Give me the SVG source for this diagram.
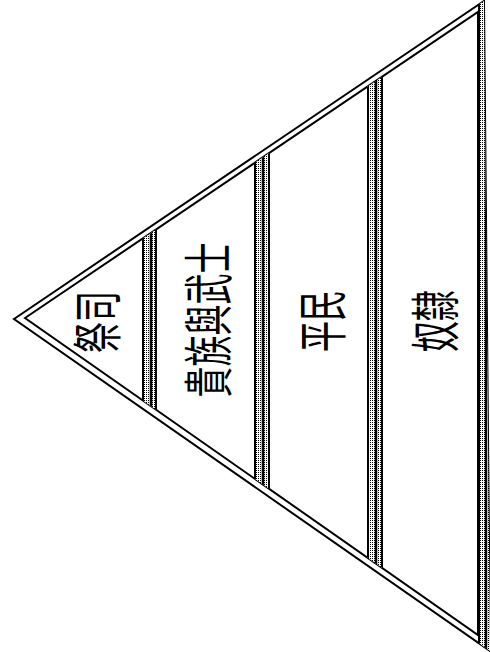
<svg xmlns="http://www.w3.org/2000/svg" width="490" height="652" viewBox="0 0 490 652">
<style>
.edge{fill:none;stroke:#000;stroke-width:2;stroke-linejoin:miter}
.ln{stroke:#000;stroke-width:2}
.lbl{font-family:"Noto Sans CJK TC","Noto Sans CJK SC",sans-serif;font-size:50px;fill:#000;text-anchor:middle;dominant-baseline:central}
</style>
<defs>
<pattern id="dots" width="2" height="2" patternUnits="userSpaceOnUse">
<rect width="2" height="2" fill="#fff"/>
<rect width="1" height="1" fill="#000"/>
</pattern>
<clipPath id="inner"><polygon points="25,318 478,12 478,635"/></clipPath>
<clipPath id="outer"><polygon points="14,319 484,1 490,651"/></clipPath>
</defs>
<rect width="490" height="652" fill="#fff"/>
<g id="frame">
<polygon class="edge" points="14,319 484,1 490,651"/>
<polygon class="edge" points="25,318 478,12 478,635"/>
</g>
<g id="connectors">
<g clip-path="url(#inner)">
<rect x="142" y="0" width="14" height="652" fill="url(#dots)"/>
<line class="ln" x1="143" y1="0" x2="143" y2="652"/>
<line class="ln" x1="151" y1="0" x2="151" y2="652" style="stroke-width:2.5"/>
<line class="ln" x1="156" y1="0" x2="156" y2="652"/>
<rect x="254" y="0" width="15" height="652" fill="url(#dots)"/>
<line class="ln" x1="255" y1="0" x2="255" y2="652"/>
<line class="ln" x1="263" y1="0" x2="263" y2="652" style="stroke-width:2.5"/>
<line class="ln" x1="269" y1="0" x2="269" y2="652"/>
<rect x="367" y="0" width="15" height="652" fill="url(#dots)"/>
<line class="ln" x1="368" y1="0" x2="368" y2="652"/>
<line class="ln" x1="376" y1="0" x2="376" y2="652" style="stroke-width:2.5"/>
<line class="ln" x1="382" y1="0" x2="382" y2="652"/>
</g>
<g clip-path="url(#outer)">
<rect x="479" y="0" width="11" height="652" fill="url(#dots)"/>
<line class="ln" x1="479" y1="0" x2="479" y2="652"/>
<line class="ln" x1="486" y1="0" x2="486" y2="652" style="stroke-width:2.5"/>
</g>
</g>
<g id="tier-priests">
<text class="lbl" transform="translate(94,322) rotate(-90) scale(0.62,1)">祭司</text>
</g>
<g id="tier-nobles">
<text class="lbl" transform="translate(205,320) rotate(-90) scale(0.62,1)">貴族與武士</text>
</g>
<g id="tier-commoners">
<text class="lbl" transform="translate(319,321) rotate(-90) scale(0.62,1)">平民</text>
</g>
<g id="tier-slaves">
<text class="lbl" transform="translate(432,321) rotate(-90) scale(0.62,1)">奴隸</text>
</g>
</svg>
